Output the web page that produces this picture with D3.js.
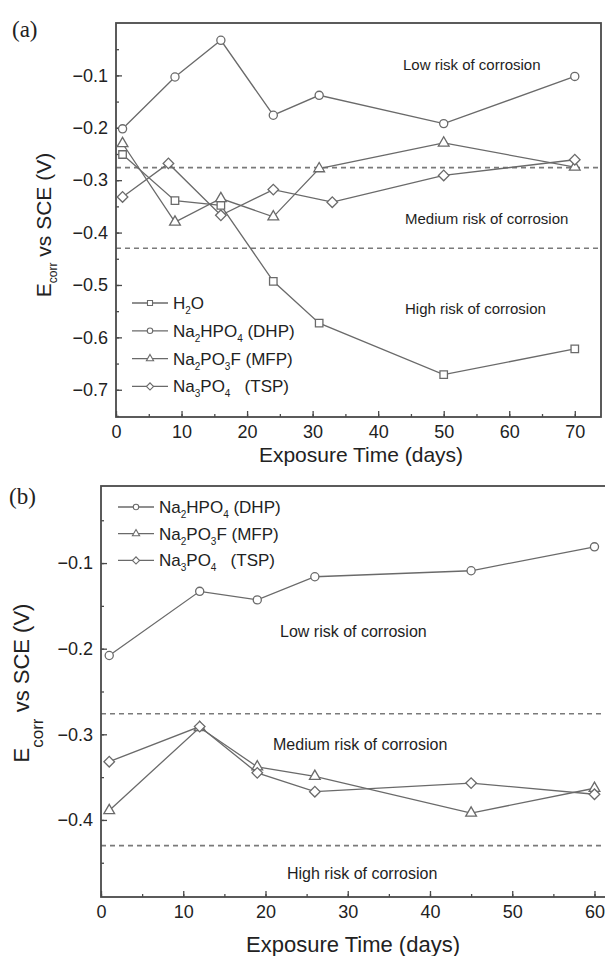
<!DOCTYPE html>
<html>
<head>
<meta charset="utf-8">
<script src="https://cdn.jsdelivr.net/npm/d3@7"></script>
<style>
    body { margin: 0; background: #fff; }
    svg { display: block; font-family: "Liberation Sans", Arial, sans-serif; }
</style>
</head>
<body>
<div id="chart"></div>
<script>
// panel (a)
const daysA = [1, 9, 16, 24, 31, 50, 70];
const daysTspA = [1, 8, 16, 24, 33, 50, 70];
const h2oA = [-0.251, -0.339, -0.348, -0.493, -0.573, -0.671, -0.622];
const dhpA = [-0.202, -0.103, -0.033, -0.176, -0.138, -0.192, -0.102];
const mfpA = [-0.230, -0.380, -0.335, -0.370, -0.278, -0.229, -0.275];
const tspA = [-0.332, -0.268, -0.367, -0.318, -0.342, -0.291, -0.261];

// panel (b)
const daysB = [1, 12, 19, 26, 45, 60];
const dhpB = [-0.208, -0.133, -0.143, -0.116, -0.109, -0.081];
const mfpB = [-0.389, -0.292, -0.338, -0.349, -0.392, -0.363];
const tspB = [-0.332, -0.291, -0.345, -0.367, -0.357, -0.370];

const riskLimits = [-0.276, -0.43];
const riskLabels = ["Low risk of corrosion", "Medium risk of corrosion", "High risk of corrosion"];
const xTicksA = [0, 10, 20, 30, 40, 50, 60, 70];
const xTicksB = [0, 10, 20, 30, 40, 50, 60];
const yTicksA = [-0.1, -0.2, -0.3, -0.4, -0.5, -0.6, -0.7];
const yTicksB = [-0.1, -0.2, -0.3, -0.4];

const lineColor = "#6a6a6a";
const axisColor = "#4a4a4a";

const svg = d3.select("#chart")
    .append("svg")
    .attr("width", 605)
    .attr("height", 956);

// legend entries: name parts as [text, isSub]
const legendNames = {
    h2o: [["H", false], ["2", true], ["O", false]],
    dhp: [["Na", false], ["2", true], ["HPO", false], ["4", true], [" (DHP)", false]],
    mfp: [["Na", false], ["2", true], ["PO", false], ["3", true], ["F (MFP)", false]],
    tsp: [["Na", false], ["3", true], ["PO", false], ["4", true], ["\u00a0\u00a0\u00a0(TSP)", false]]
};

const symbols = {
    h2o: { type: d3.symbolSquare, size: 56, rotate: 0 },
    dhp: { type: d3.symbolCircle, size: 52, rotate: 0 },
    mfp: { type: d3.symbolTriangle, size: 50, rotate: 0 },
    tsp: { type: d3.symbolSquare, size: 56, rotate: 45 }
};

function drawPanel(cfg) {
    const g = svg.append("g");
    const x = d3.scaleLinear().domain(cfg.xDomain).range([cfg.left, cfg.right]);
    const y = d3.scaleLinear().domain(cfg.yDomain).range([cfg.bottom, cfg.top]);

    // risk thresholds
    g.selectAll(".risk")
        .data(riskLimits)
        .enter()
        .append("line")
        .attr("x1", cfg.left)
        .attr("x2", cfg.right)
        .attr("y1", (d) => y(d))
        .attr("y2", (d) => y(d))
        .attr("stroke", "#7a7a7a")
        .attr("stroke-width", 1.6)
        .attr("stroke-dasharray", "5,4");

    cfg.riskText.forEach((t, i) => {
        g.append("text")
            .attr("x", t[0])
            .attr("y", t[1])
            .attr("font-size", cfg.riskFont)
            .attr("fill", "#1e1e1e")
            .text(riskLabels[i]);
    });

    // axes with inward ticks
    const xMinor = d3.range(cfg.xDomain[0], cfg.xDomain[1], 5);
    const yMinor = d3.range(-0.05, cfg.yDomain[0], -0.05);

    g.append("g")
        .attr("transform", `translate(0,${cfg.bottom})`)
        .call(d3.axisBottom(x).tickValues(xMinor).tickFormat("").tickSizeInner(-3).tickSizeOuter(0))
        .call((s) => s.select(".domain").remove());
    g.append("g")
        .attr("transform", `translate(${cfg.left},0)`)
        .call(d3.axisLeft(y).tickValues(yMinor).tickFormat("").tickSizeInner(-3).tickSizeOuter(0))
        .call((s) => s.select(".domain").remove());

    const xAxis = g.append("g")
        .attr("transform", `translate(0,${cfg.bottom})`)
        .call(d3.axisBottom(x).tickValues(cfg.xTicks).tickSizeInner(-6).tickSizeOuter(0).tickPadding(8));
    const yAxis = g.append("g")
        .attr("transform", `translate(${cfg.left},0)`)
        .call(d3.axisLeft(y).tickValues(cfg.yTicks).tickFormat(d3.format(".1f")).tickSizeInner(-6).tickSizeOuter(0).tickPadding(8));

    [xAxis, yAxis].forEach((a) => {
        a.select(".domain").remove();
        a.selectAll("text").attr("font-size", 18).attr("fill", "#222").attr("font-family", "Liberation Sans, Arial, sans-serif");
    });
    g.selectAll(".tick line").attr("stroke", axisColor).attr("stroke-width", 1.3);

    // frame
    g.append("rect")
        .attr("x", cfg.left)
        .attr("y", cfg.top)
        .attr("width", cfg.right - cfg.left)
        .attr("height", cfg.bottom - cfg.top)
        .attr("fill", "none")
        .attr("stroke", axisColor)
        .attr("stroke-width", 1.8);

    // series
    cfg.series.forEach((s) => {
        const pts = s.days.map((d, i) => [x(d), y(s.values[i])]);
        g.append("path")
            .attr("d", d3.line()(pts))
            .attr("fill", "none")
            .attr("stroke", lineColor)
            .attr("stroke-width", 1.3);
        const sym = symbols[s.key];
        g.selectAll(".pt-" + s.key)
            .data(pts)
            .enter()
            .append("path")
            .attr("d", d3.symbol().type(sym.type).size(sym.size))
            .attr("transform", (p) => `translate(${p[0]},${p[1]}) rotate(${sym.rotate})`)
            .attr("fill", "#fff")
            .attr("stroke", lineColor)
            .attr("stroke-width", 1.3);
    });

    // legend
    cfg.series.forEach((s, i) => {
        const ly = cfg.legend.y + i * cfg.legend.step;
        const sym = symbols[s.key];
        g.append("line")
            .attr("x1", cfg.legend.x)
            .attr("x2", cfg.legend.x + 36)
            .attr("y1", ly)
            .attr("y2", ly)
            .attr("stroke", lineColor)
            .attr("stroke-width", 1.3);
        g.append("path")
            .attr("d", d3.symbol().type(sym.type).size(sym.size * 0.45))
            .attr("transform", `translate(${cfg.legend.x + 18},${ly}) rotate(${sym.rotate})`)
            .attr("fill", "#fff")
            .attr("stroke", lineColor)
            .attr("stroke-width", 1.1);
        const t = g.append("text")
            .attr("x", cfg.legend.x + 41)
            .attr("y", ly + 6)
            .attr("font-size", 17)
            .attr("fill", "#222");
        let shifted = false;
        legendNames[s.key].forEach(([txt, sub]) => {
            const span = t.append("tspan").text(txt);
            if (sub) {
                span.attr("font-size", 10).attr("dy", shifted ? 0 : 5);
                shifted = true;
            } else {
                span.attr("dy", shifted ? -5 : 0);
                shifted = false;
            }
        });
    });

    // axis titles
    g.append("text")
        .attr("x", cfg.xTitle[0])
        .attr("y", cfg.xTitle[1])
        .attr("text-anchor", "middle")
        .attr("font-size", cfg.xTitleFont)
        .attr("fill", "#222")
        .text("Exposure Time (days)");

    const yt = g.append("text")
        .attr("transform", `translate(${cfg.yTitle[0]},${cfg.yTitle[1]}) rotate(-90)`)
        .attr("text-anchor", "middle")
        .attr("font-size", cfg.yTitleFont)
        .attr("fill", "#222");
    yt.append("tspan").text("E");
    yt.append("tspan").text("corr").attr("font-size", cfg.subFont).attr("dy", cfg.subShift);
    yt.append("tspan").text(" vs SCE (V)").attr("dy", -cfg.subShift);

    // panel label
    g.append("text")
        .attr("x", cfg.label[0])
        .attr("y", cfg.label[1])
        .attr("font-family", "Liberation Serif, Times New Roman, serif")
        .attr("font-size", 23)
        .attr("fill", "#222")
        .text(cfg.labelText);
}

drawPanel({
    left: 116, right: 601, top: 23, bottom: 417,
    xDomain: [0, 74], yDomain: [-0.752, 0],
    xTicks: xTicksA, yTicks: yTicksA,
    series: [
        { key: "h2o", days: daysA, values: h2oA },
        { key: "dhp", days: daysA, values: dhpA },
        { key: "mfp", days: daysA, values: mfpA },
        { key: "tsp", days: daysTspA, values: tspA }
    ],
    legend: { x: 132, y: 303, step: 27.8 },
    riskText: [[403, 70], [405, 224], [405, 314]],
    riskFont: 15,
    xTitle: [361, 462], xTitleFont: 21,
    yTitle: [51, 225], yTitleFont: 21, subFont: 12, subShift: 6,
    label: [12, 37], labelText: "(a)"
});

drawPanel({
    left: 101, right: 606, top: 486, bottom: 897,
    xDomain: [0, 61.4], yDomain: [-0.49, -0.01],
    xTicks: xTicksB, yTicks: yTicksB,
    series: [
        { key: "dhp", days: daysB, values: dhpB },
        { key: "mfp", days: daysB, values: mfpB },
        { key: "tsp", days: daysB, values: tspB }
    ],
    legend: { x: 118, y: 507, step: 26.7 },
    riskText: [[280, 637], [273, 750], [287, 879]],
    riskFont: 16,
    xTitle: [353, 952], xTitleFont: 22,
    yTitle: [29, 683], yTitleFont: 22, subFont: 17, subShift: 14,
    label: [9, 504], labelText: "(b)"
});
</script>
</body>
</html>
